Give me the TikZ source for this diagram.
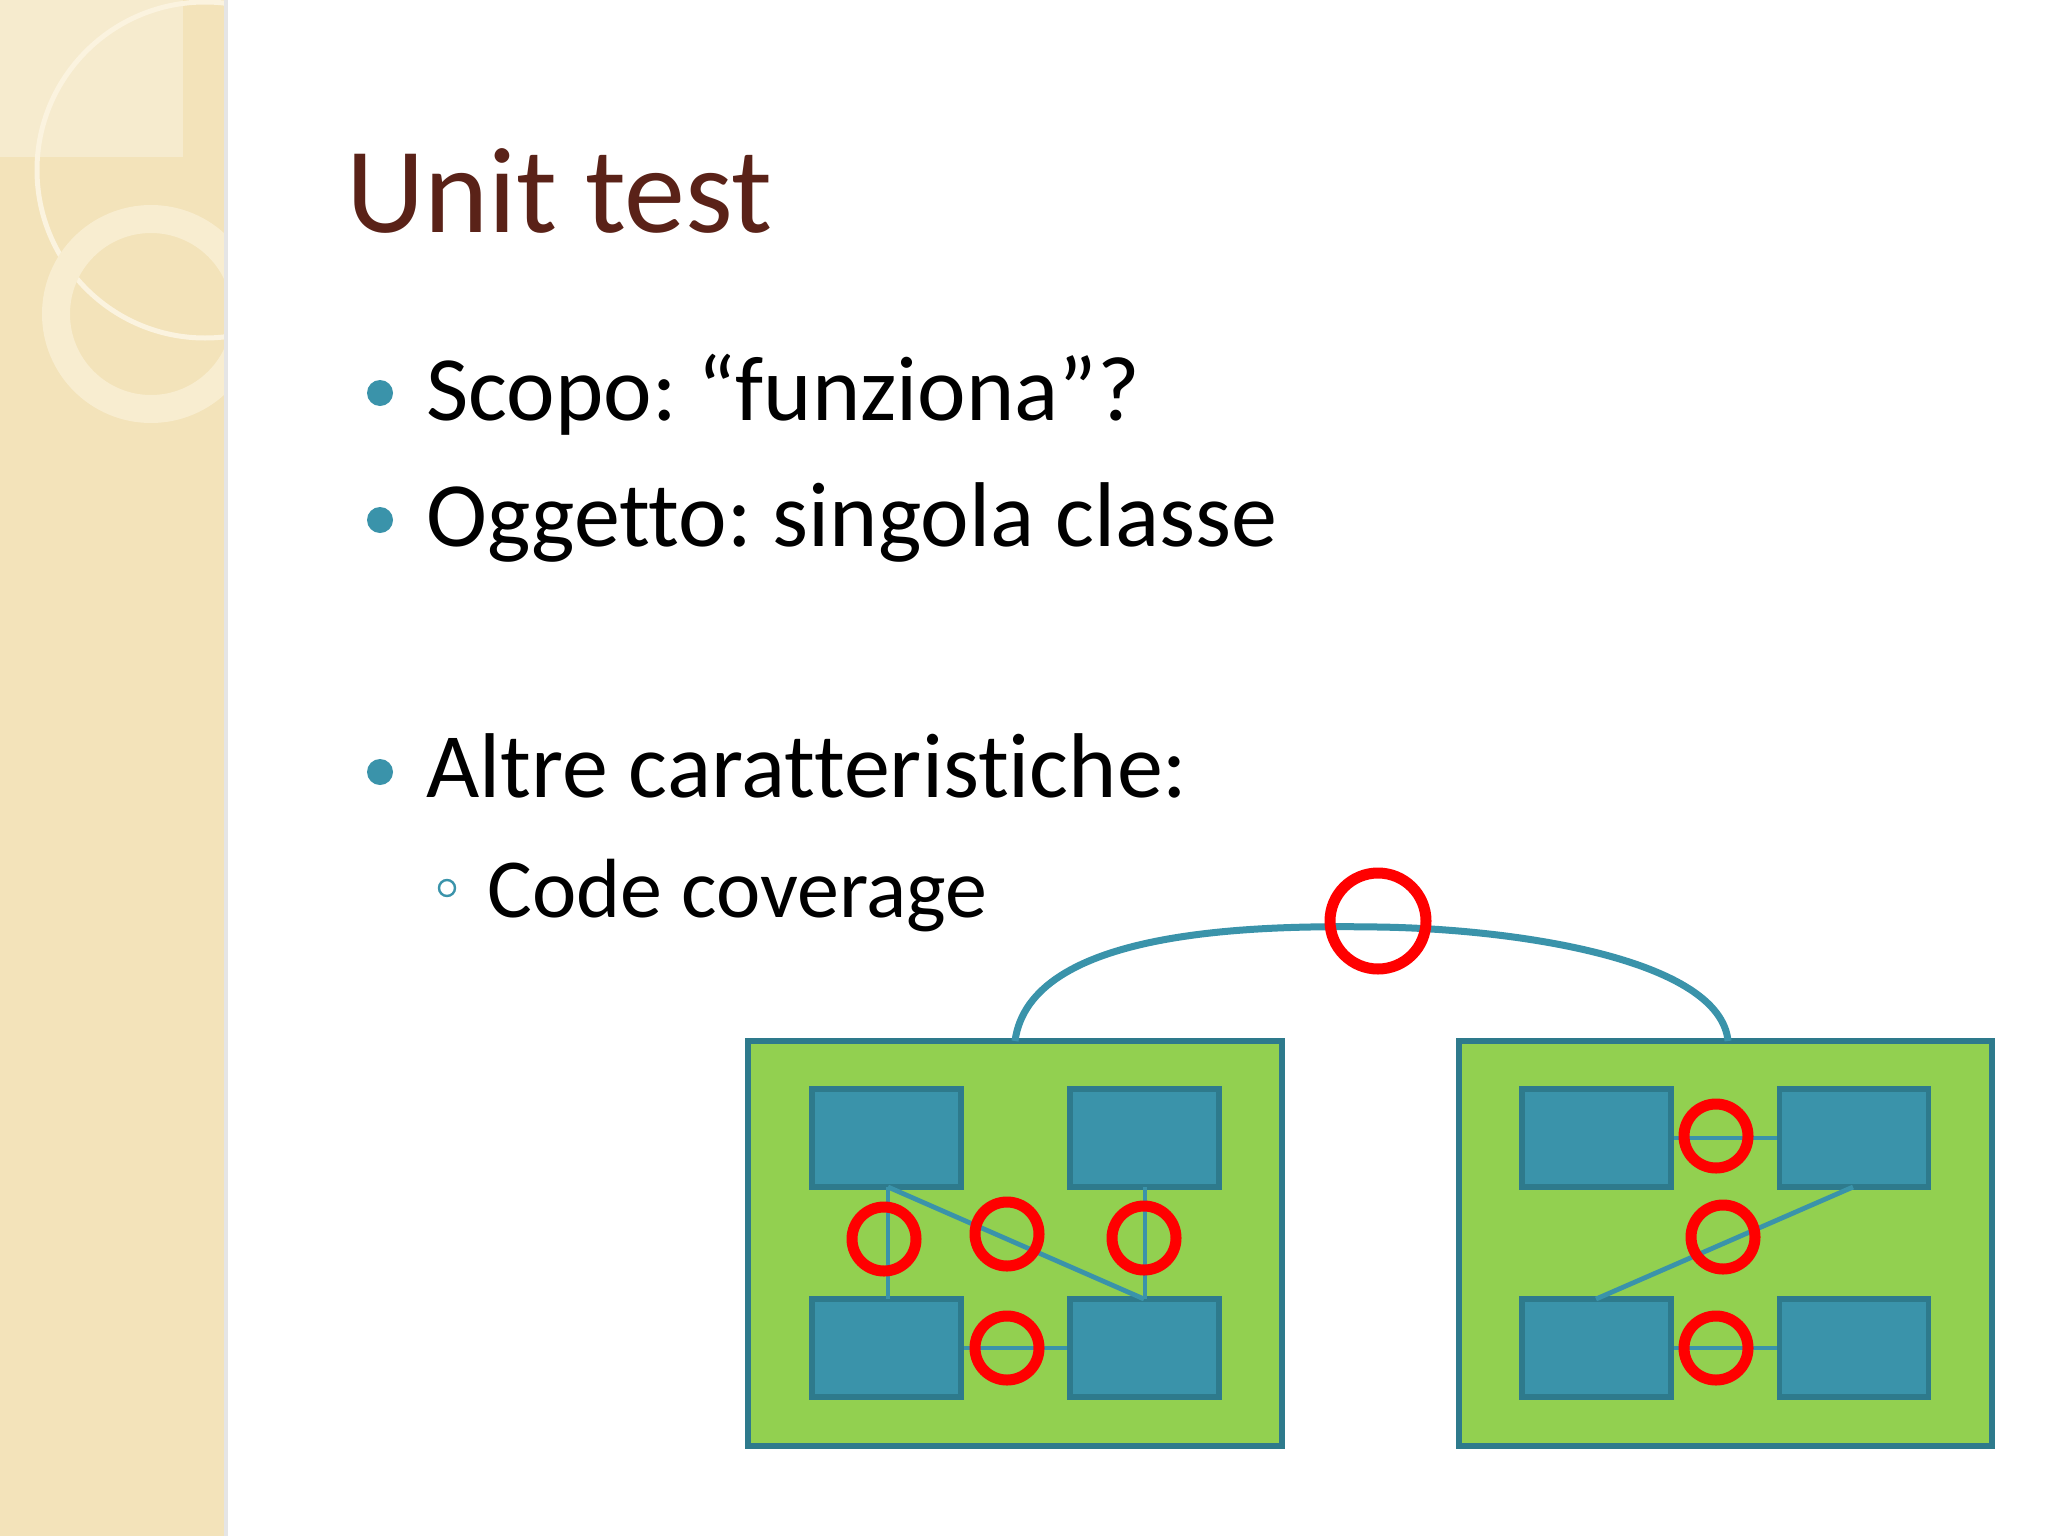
\documentclass[tikz,border=0pt]{standalone}
\usepackage{fontspec}
\setmainfont[Ligatures=NoCommon]{Carlito}
\frenchspacing
\definecolor{beige}{HTML}{F3E3BA}
\definecolor{ringc}{HTML}{FBF3DF}
\definecolor{titlec}{HTML}{5A2218}
\definecolor{teal}{HTML}{3A93AA}
\definecolor{tealdark}{HTML}{2E7A8C}
\definecolor{greenf}{HTML}{92D050}
\tikzset{
  module/.style={draw=tealdark,line width=2.6pt,fill=greenf,inner sep=0},
  unit/.style={draw=tealdark,line width=2.6pt,fill=teal,inner sep=0,minimum width=74.5pt,minimum height=49pt},
  link/.style={draw=teal,line width=2.4pt},
  hit/.style={draw=red,line width=5.5pt},
  btext/.style={anchor=base west,inner sep=0,font=\fontsize{46}{46}\selectfont},
}
\begin{document}
\begin{tikzpicture}[x=0.5pt,y=-0.5pt]
\useasboundingbox (0,0) rectangle (2048,1536);
\fill[white] (0,0) rectangle (2048,1536);
% side strip
\fill[beige] (0,0) rectangle (226,1536);
\begin{scope}
\clip (0,0) rectangle (226,1536);
\fill[white,opacity=0.3] (0,0) rectangle (183,157);
\draw[ringc,line width=2.5pt] (205,170) circle (168);
\draw[ringc!60!beige,line width=14pt] (151,314) circle (95);
\end{scope}
\fill[black!10] (224,0) rectangle (228,1536);
% title
\node[anchor=base west,inner sep=0,text=titlec,font=\fontsize{61}{61}\selectfont] (title) at (346,232) {Unit test};
% bullets
\fill[teal] (380,393) circle (13) (380,520) circle (13) (380,772) circle (13);
\node[btext] (b1) at (426,420) {Scopo: “funziona”?};
\node[btext] (b2) at (426,546) {Oggetto: singola classe};
\node[btext] (b3) at (426,797) {Altre caratteristiche:};
\draw[teal,line width=1.2pt] (447,888) circle (8);
\node[btext,font=\fontsize{42}{42}\selectfont] (b4) at (487,917) {Code coverage};
% modules
\node[module,minimum width=267pt,minimum height=202.5pt] (m1) at (1015,1243.5) {};
\node[module,minimum width=266.5pt,minimum height=202.5pt] (m2) at (1725.5,1243.5) {};
\coordinate (a1) at (1015,1041);
\coordinate (a2) at (1728,1041);
\draw[link,line width=3.5pt] (a1) .. controls (1030,930) and (1250,925) .. (1378,927) .. controls (1520,929) and (1720,960) .. (a2);
% units
\foreach \n/\x/\y in {l1/886.5/1138, l2/1144.5/1138, l3/886.5/1348, l4/1144.5/1348, r1/1596.5/1138, r2/1854/1138, r3/1596.5/1348, r4/1854/1348}
  \node[unit] (\n) at (\x,\y) {};
% links
\draw[link] (888,1187) -- (888,1299);
\draw[link] (888,1187) -- (1144,1299);
\draw[link] (1145,1187) -- (1145,1299);
\draw[link] (l3.east) -- (l4.west);
\draw[link] (r1.east) -- (r2.west);
\draw[link] (1853,1187) -- (1596,1299);
\draw[link] (r3.east) -- (r4.west);
% coverage circles
\draw[hit] (1378,921) circle (48);
\draw[hit] (884,1239) circle (32);
\draw[hit] (1007,1234) circle (32);
\draw[hit] (1144,1238) circle (32);
\draw[hit] (1007,1348) circle (32);
\draw[hit] (1716,1136) circle (32);
\draw[hit] (1723,1237) circle (32);
\draw[hit] (1716,1348) circle (32);
\end{tikzpicture}
\end{document}
